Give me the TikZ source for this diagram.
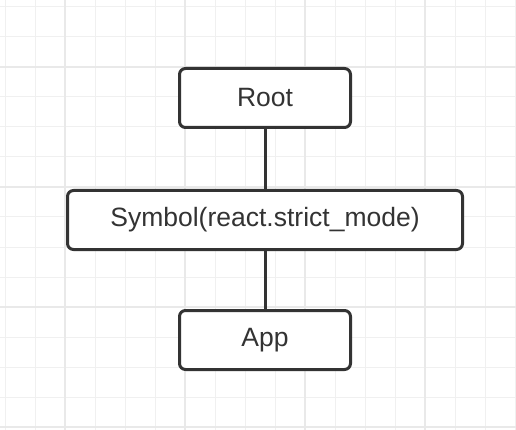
\documentclass[tikz,border=0pt]{standalone}
\usepackage{fontspec}
\setmainfont{Liberation Sans}
\usetikzlibrary{positioning}
\definecolor{boxline}{HTML}{333333}
\definecolor{minorgrid}{HTML}{F0F0F0}
\definecolor{majorgrid}{HTML}{E9E9E9}

\begin{document}
\begin{tikzpicture}[x=1pt, y=-1pt]
	\tikzset {node distance=59pt, block/.style={draw=boxline, line width=3pt, rounded corners=6pt, fill=white, text=boxline, minimum height=59pt, font=\fontsize{26.5}{30}\selectfont} }

	% background and grid
	\useasboundingbox[fill=white] (0,0) rectangle (516,430);
	\foreach \gx in {5,35,...,515} \draw[minorgrid, line width=1pt] (\gx,0) -- (\gx,430);
	\foreach \gy in {7,37,...,430} \draw[minorgrid, line width=1pt] (0,\gy) -- (516,\gy);
	\foreach \gx in {65,185,305,425} \draw[majorgrid, line width=2pt] (\gx,0) -- (\gx,430);
	\foreach \gy in {67,187,307,427} \draw[majorgrid, line width=2pt] (0,\gy) -- (516,\gy);

	\node[block, minimum width=171pt] (root) at (265,98) {Root};
	\node[block, minimum width=395pt, below=60pt of root] (strict) {Symbol(react.strict\_mode)};
	\node[block, minimum width=171pt, below=58pt of strict] (app) {App};

	\draw[boxline, line width=3pt]
		(root) -- (strict)
		(strict) -- (app);
\end{tikzpicture}
\end{document}
